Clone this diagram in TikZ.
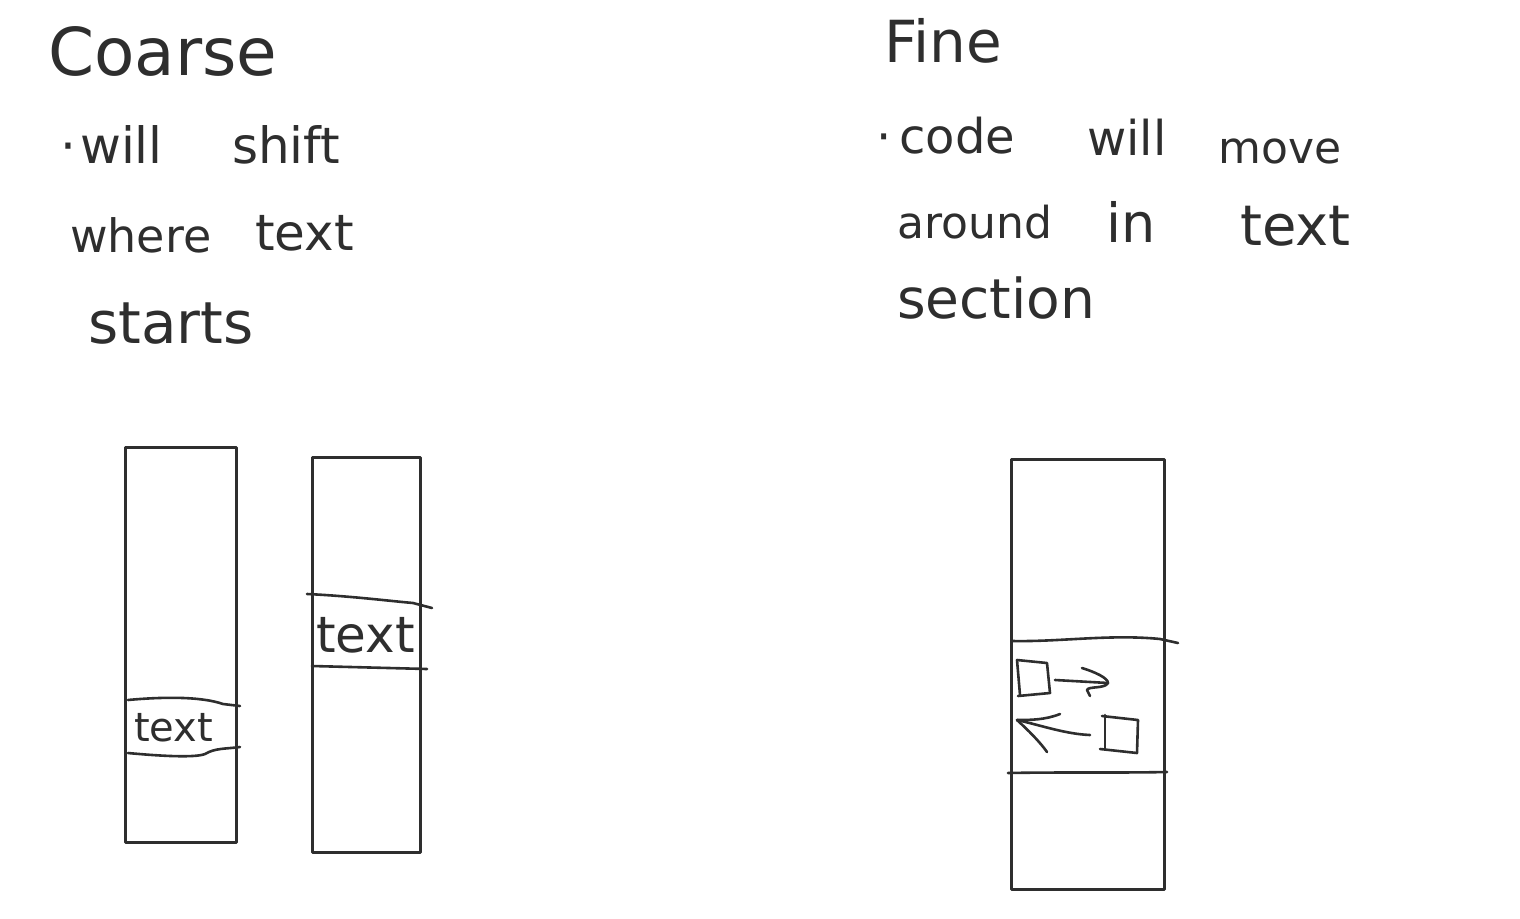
\documentclass[tikz,border=0pt]{standalone}
\usepackage{fontspec}
\setmainfont{DejaVu Sans}
\definecolor{ink}{HTML}{2E2E2E}
\begin{document}
\begin{tikzpicture}[x=1pt,y=-1pt,
  ink/.style={draw=ink,line width=2.6pt,line cap=round,line join=round},
  word/.style={anchor=base west,inner sep=0pt,text=ink,font=\fontsize{50}{50}\selectfont},
  head/.style={anchor=base west,inner sep=0pt,text=ink},
  column/.style={ink,rectangle,inner sep=0pt,anchor=north west}]
\useasboundingbox (0,0) rectangle (1520,918);
% ---------- left column text ----------
\node[head,font=\fontsize{66}{66}\selectfont] (coarse) at (48,75) {Coarse};
\node[word] (l1a) at (60,163) {·\hspace{4pt}will};
\node[word] (l1b) at (232,163) {shift};
\node[word,font=\fontsize{46}{46}\selectfont] (l2a) at (70,252) {where};
\node[word] (l2b) at (255,250) {text};
\node[word,font=\fontsize{58}{58}\selectfont] (l3a) at (88,343) {starts};
% ---------- right column text ----------
\node[head,font=\fontsize{58}{58}\selectfont] (fine) at (884,62) {Fine};
\node[word,font=\fontsize{48}{48}\selectfont] (r1a) at (876,153) {·\hspace{8pt}code};
\node[word,font=\fontsize{48}{48}\selectfont] (r1b) at (1087,155) {will};
\node[word,font=\fontsize{44}{44}\selectfont] (r1c) at (1218,163) {move};
\node[word,font=\fontsize{44}{44}\selectfont] (r2a) at (897,238) {around};
\node[word,font=\fontsize{54}{54}\selectfont] (r2b) at (1106,242) {in};
\node[word,font=\fontsize{56}{56}\selectfont] (r2c) at (1240,245) {text};
\node[word,font=\fontsize{55}{55}\selectfont] (r3a) at (897,318) {section};
% ---------- boxes ----------
\node[column,minimum width=111pt,minimum height=395pt] (b1) at (124,446) {};
\node[column,minimum width=108pt,minimum height=395pt] (b2) at (311,456) {};
\node[column,minimum width=153pt,minimum height=430pt] (b3) at (1010,458) {};
% box 1 text band
\draw[ink] (128,700) .. controls (160,697) and (200,696) .. (223,704) -- (240,706);
\draw[ink] (128,753) .. controls (160,756) and (195,758) .. (205,754) .. controls (215,748) and (225,749) .. (240,747);
\node[word,font=\fontsize{40}{40}\selectfont] (t1) at (134,741) {text};
% box 2 text band
\draw[ink] (307,594) .. controls (350,596) and (390,601) .. (413,603) -- (432,608);
\draw[ink] (312,666) -- (427,669);
\node[word] (t2) at (316,652) {text};
% box 3 section
\draw[ink] (1012,641) .. controls (1060,642) and (1110,634) .. (1160,639) -- (1178,643);
\draw[ink] (1008,773) .. controls (1060,772) and (1120,773) .. (1167,772);
% squares
\draw[ink] (1017,660) -- (1047,663) -- (1050,693) -- (1018,696);
\draw[ink] (1017,660) -- (1020,695);
\draw[ink] (1105,715) -- (1105,749);
\draw[ink] (1100,749) -- (1137,753) -- (1138,720) -- (1102,716);
% right arrow
\draw[ink] (1055,680) -- (1108,683);
\draw[ink] (1082,668) .. controls (1095,672) and (1108,678) .. (1108,683) .. controls (1105,689) and (1088,686) .. (1087,690) -- (1090,696);
% left arrow
\draw[ink] (1090,735) .. controls (1065,734) and (1040,725) .. (1017,720);
\draw[ink] (1060,714) .. controls (1045,720) and (1030,720) .. (1017,720) .. controls (1028,730) and (1040,742) .. (1047,752);
\end{tikzpicture}
\end{document}
